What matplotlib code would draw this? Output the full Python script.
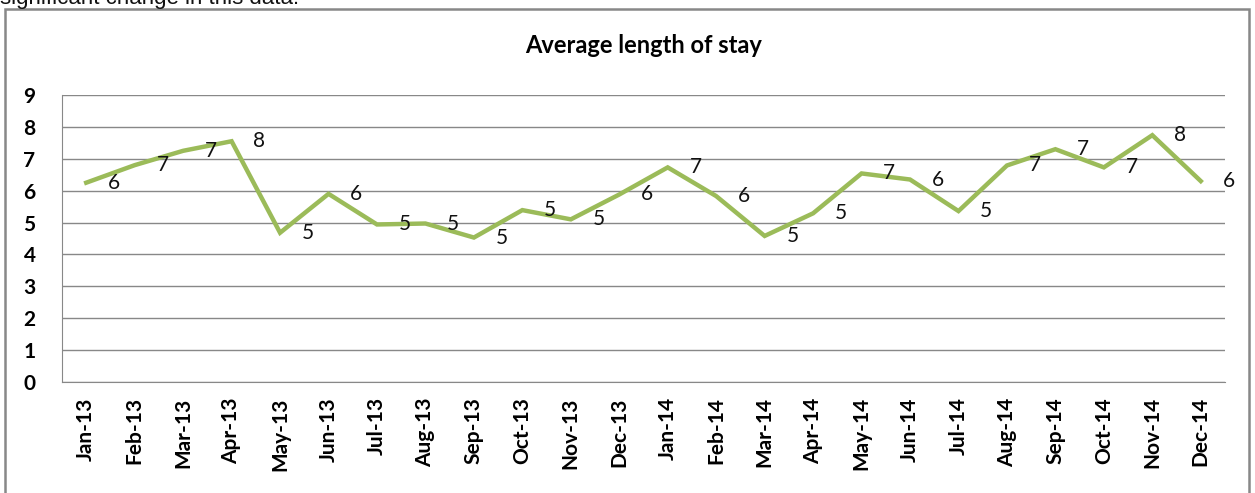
import matplotlib.pyplot as plt
import matplotlib.patches as patches

# monthly average length of stay
months = ["Jan-13", "Feb-13", "Mar-13", "Apr-13", "May-13", "Jun-13",
          "Jul-13", "Aug-13", "Sep-13", "Oct-13", "Nov-13", "Dec-13",
          "Jan-14", "Feb-14", "Mar-14", "Apr-14", "May-14", "Jun-14",
          "Jul-14", "Aug-14", "Sep-14", "Oct-14", "Nov-14", "Dec-14"]
stay = [6.25, 6.8, 7.25, 7.55, 4.68, 5.9, 4.94, 4.97, 4.53, 5.39, 5.1, 5.88,
        6.73, 5.83, 4.58, 5.29, 6.54, 6.35, 5.36, 6.79, 7.3, 6.73, 7.74, 6.3]

plt.rcParams['font.family'] = ['Lato', 'DejaVu Sans']

fig = plt.figure(figsize=(12.55, 4.93), dpi=100)
ax = fig.add_axes([62/1255, 111/493, 1163/1255, 287/493])

x = range(len(months))
ax.plot(x, stay, color='#9BBB59', linewidth=3.2, solid_joinstyle='miter')

# data labels to the right of each point, rounded like Excel
for i, v in enumerate(stay):
    ax.annotate("%d" % round(v), (i, v), xytext=(20, 0), textcoords='offset points',
                ha='center', va='center', fontsize=15, color='#111111')

ax.set_xlim(-0.5, len(months) - 0.5)
ax.set_ylim(0, 9)
ax.set_yticks(range(10))
ax.set_xticks(list(x))
ax.set_xticklabels(months, rotation=90, fontsize=15, fontweight='bold')
ax.tick_params(axis='y', labelsize=15, length=0, pad=19)
ax.tick_params(axis='x', length=0, pad=11)
for lbl in ax.get_yticklabels():
    lbl.set_fontweight('bold')
ax.grid(axis='y', color='#888888', linewidth=1)
ax.set_axisbelow(True)
for s in ['top', 'right']:
    ax.spines[s].set_visible(False)
ax.spines['left'].set_color('#888888')
ax.spines['bottom'].set_color('#888888')

ax.set_title("Average length of stay", fontsize=17, fontweight='bold', pad=30)

# outer chart border and the cut-off sentence above it
fig.patches.append(patches.Rectangle((5/1255, -0.02), 1244/1255, 1.02 - 9/493,
                                     transform=fig.transFigure, fill=False,
                                     edgecolor='#888888', linewidth=1.8))
fig.text(0.0, 1 - 4/493, "significant change in this data.", fontsize=16,
         family='Liberation Sans', va='baseline', color='#111111')

fig.savefig('out.png', dpi=100)
